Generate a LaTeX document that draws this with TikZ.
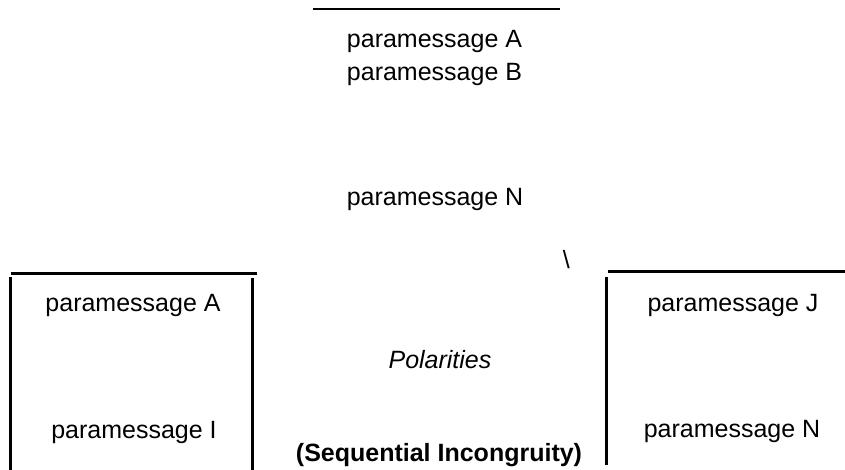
\documentclass[tikz,border=0pt]{standalone}
\usepackage{fontspec}
\setmainfont{Liberation Sans}
\begin{document}
\begin{tikzpicture}[x=1pt,y=-1pt,
  lbl/.style={inner sep=0pt,anchor=base,font=\fontsize{25}{30}\selectfont},
  rule/.style={line width=2.6pt,line cap=butt}]
\path[use as bounding box] (0,0) rectangle (845,470);

% top block
\draw[rule] (313,9) -- (560,9);
\node[lbl] (tA) at (434.5,48) {paramessage A};
\node[lbl] (tB) at (434.5,81) {paramessage B};
\node[lbl] (tN) at (435,206) {paramessage N};
\node[lbl] (bs) at (566.3,268) {\textbackslash};

% left bracket
\draw[rule] (11,273.5) -- (257,273.5);
\draw[rule] (10.7,277) -- (10.7,470);
\draw[rule] (252.7,278) -- (252.7,470);
\node[lbl] (lA) at (133,311.5) {paramessage A};
\node[lbl] (lI) at (134,438) {paramessage I};

% right bracket
\draw[rule] (607.7,271.7) -- (845,271.7);
\draw[rule] (606.7,276.7) -- (606.7,465);
\node[lbl] (rJ) at (733,311.5) {paramessage J};
\node[lbl] (rN) at (732,437) {paramessage N};

% middle labels
\node[lbl,font=\fontsize{25}{30}\selectfont\itshape] (pol) at (440,368) {Polarities};
\node[lbl,font=\fontsize{25}{30}\selectfont\bfseries] (seq) at (439,461) {(Sequential Incongruity)};
\end{tikzpicture}
\end{document}
